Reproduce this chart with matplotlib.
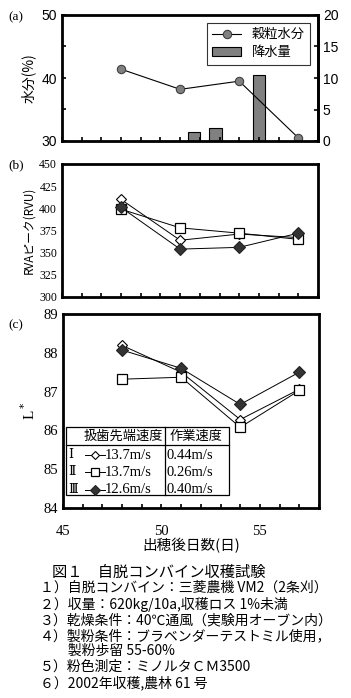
import numpy as np
import matplotlib.pyplot as plt
from matplotlib.lines import Line2D
from matplotlib.patches import Rectangle

plt.rcParams['font.family'] = ['Noto Sans CJK JP', 'DejaVu Sans']

# data
days = [48, 51, 54, 57]
moisture = [41.4, 38.2, 39.5, 30.5]
rain_days = [51.7, 52.8, 55.0]
rain = [1.35, 2.0, 10.4]

rva_1 = [410, 364, 371, 367]
rva_2 = [399, 378, 372, 365]
rva_3 = [401, 354, 356, 372]

lstar_1 = [88.19, 87.5, 86.28, 87.06]
lstar_2 = [87.32, 87.37, 86.08, 87.03]
lstar_3 = [88.07, 87.6, 86.67, 87.5]

names = ['Ⅰ', 'Ⅱ', 'Ⅲ']
tip_speed = ['13.7m/s', '13.7m/s', '12.6m/s']
work_speed = ['0.44m/s', '0.26m/s', '0.40m/s']

caption = ['１）自脱コンバイン：三菱農機 VM2（2条刈）',
           '２）収量：620kg/10a,収穫ロス 1%未満',
           '３）乾燥条件：40℃通風（実験用オーブン内）',
           '４）製粉条件：ブラベンダーテストミル使用，',
           '　　製粉歩留 55-60%',
           '５）粉色測定：ミノルタＣＭ3500',
           '６）2002年収穫,農林 61 号']

W, H = 351, 698
fig = plt.figure(figsize=(W/100, H/100), dpi=100)

def fx(x):
    return x / W

def fy(y):
    return 1 - y / H

def box(l, t, r, b):
    return [fx(l), fy(b), fx(r) - fx(l), fy(t) - fy(b)]

serif = ['Liberation Serif', 'DejaVu Serif']
sans = ['Liberation Sans', 'DejaVu Sans']

styles = [dict(marker='D', ms=5, mfc='white', mec='black', mew=0.8),
          dict(marker='s', ms=7, mfc='white', mec='black', mew=0.9),
          dict(marker='D', ms=6.5, mfc='#333333', mec='#222222', mew=0.8)]

def frame(ax):
    for s in ax.spines.values():
        s.set_linewidth(2)
    ax.set_xlim(45, 58)
    ax.set_xticks([45, 50, 55])
    ax.set_xticks(np.arange(45, 59, 1), minor=True)
    ax.tick_params(which='both', direction='in', length=3, width=1.2)

# ---- (a)
ax = fig.add_axes(box(62, 15, 318, 141))
ax2 = ax.twinx()
frame(ax)
ax2.spines['right'].set_linewidth(2)
ax.set_zorder(ax2.get_zorder() + 1)
ax.patch.set_visible(False)
ax2.bar(rain_days, rain, width=0.65, color='#808080', edgecolor='black', linewidth=0.8)
l1, = ax.plot(days, moisture, color='black', lw=0.8, marker='o', ms=6,
              mfc='#808080', mec='#404040', mew=0.8)
ax.set_ylim(30, 50)
ax.set_yticks([30, 40, 50])
ax.set_yticks([35, 45], minor=True)
ax.set_xticklabels([])
ax2.set_ylim(0, 20)
ax2.set_yticks([0, 5, 10, 15, 20])
ax2.tick_params(direction='in', length=3, width=1.2)
for lab in ax.get_yticklabels() + ax2.get_yticklabels():
    lab.set_fontfamily(sans)
    lab.set_fontsize(10)
ax.set_ylabel('水分(%)', fontsize=10, labelpad=4)
bar_h = Rectangle((0, 0), 1, 1, facecolor='#808080', edgecolor='black', lw=0.8)
leg = ax.legend([l1, bar_h], ['穀粒水分', '降水量'], loc='upper right',
                fontsize=9.5, frameon=True, fancybox=False, edgecolor='black',
                borderaxespad=0.6, handlelength=2.2, labelspacing=0.4)
leg.get_frame().set_linewidth(0.8)
fig.text(fx(8), fy(17), '(a)', fontsize=9.5, va='center', family=serif)

# ---- (b)
ax = fig.add_axes(box(62, 164, 318, 297))
frame(ax)
for vals, st in zip([rva_1, rva_2, rva_3], styles):
    ax.plot(days, vals, color='black', lw=0.7, **st)
ax.set_ylim(300, 450)
ax.set_yticks(np.arange(300, 451, 25))
ax.set_xticklabels([])
ax.tick_params(axis='y', which='both', length=0)
for lab in ax.get_yticklabels():
    lab.set_fontfamily(serif)
    lab.set_fontsize(8.5)
ax.set_ylabel('RVAピーク(RVU)', fontsize=8.5, labelpad=3)
fig.text(fx(8), fy(165), '(b)', fontsize=9.5, va='center', family=serif)

# ---- (c)
ax = fig.add_axes(box(63, 314, 319, 508))
frame(ax)
for vals, st in zip([lstar_1, lstar_2, lstar_3], styles):
    ax.plot(days, vals, color='black', lw=0.7, **st)
ax.set_ylim(84, 89)
ax.set_yticks(np.arange(84, 90, 1))
ax.tick_params(axis='y', which='both', length=0)
ax.tick_params(axis='x', which='major', pad=12)
for lab in ax.get_yticklabels() + ax.get_xticklabels():
    lab.set_fontfamily(serif)
    lab.set_fontsize(10.5)
ax.set_ylabel('L$^*$', fontsize=11, family=serif, labelpad=4)
ax.set_xlabel('出穂後日数(日)', fontsize=10.5, labelpad=0)
fig.text(fx(8), fy(325), '(c)', fontsize=9.5, va='center', family=serif)

# legend table
t = ax.transAxes
ax.add_patch(Rectangle((0.012, 0.067), 0.636, 0.351, transform=t,
                       facecolor='white', edgecolor='black', lw=0.9, zorder=5))
ax.plot([0.398, 0.398], [0.067, 0.418], transform=t, color='black', lw=0.9, zorder=6)
ax.plot([0.012, 0.648], [0.325, 0.325], transform=t, color='black', lw=0.9, zorder=6)
ax.text(0.234, 0.368, '扱歯先端速度', transform=t, ha='center', va='center',
        fontsize=9.5, zorder=7)
ax.text(0.52, 0.368, '作業速度', transform=t, ha='center', va='center',
        fontsize=9.5, zorder=7)
rows_y = [0.273, 0.184, 0.093]
for ry, nm, ts, ws, st in zip(rows_y, names, tip_speed, work_speed, styles):
    ax.text(0.022, ry, nm, transform=t, ha='left', va='center', fontsize=9,
            family=serif, zorder=7)
    ax.add_line(Line2D([0.086, 0.164], [ry, ry], transform=t, color='black',
                       lw=0.7, zorder=7))
    st2 = dict(st)
    st2['ms'] = st['ms'] * 0.8
    ax.add_line(Line2D([0.125], [ry], transform=t, color='black', zorder=8, **st2))
    ax.text(0.164, ry, ts, transform=t, ha='left', va='center', fontsize=10.5,
            family=serif, zorder=7)
    ax.text(0.404, ry, ws, transform=t, ha='left', va='center', fontsize=10.5,
            family=serif, zorder=7)

# caption
fig.text(fx(52), fy(572), '図１　自脱コンバイン収穫試験', fontsize=11, va='center')
cap_y = [588, 604, 620, 636, 651, 667, 683]
for cy, line in zip(cap_y, caption):
    fig.text(fx(40), fy(cy), line, fontsize=10, va='center')

fig.savefig('out.png', dpi=100)
